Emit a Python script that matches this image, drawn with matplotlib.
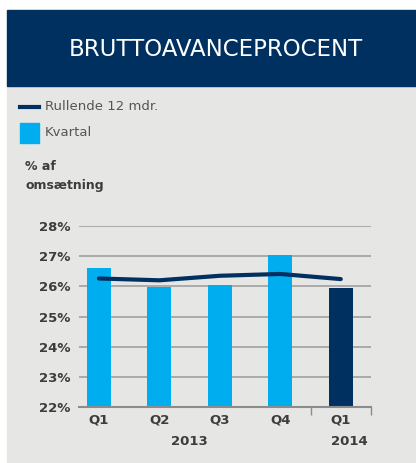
import matplotlib
matplotlib.use("Agg")
import matplotlib.pyplot as plt
from matplotlib.patches import Rectangle
from matplotlib.lines import Line2D

# data
quarters = ["Q1", "Q2", "Q3", "Q4", "Q1"]
years = ["2013", "2014"]
kvartal = [26.6, 25.97, 26.05, 27.03, 25.93]
rullende = [26.26, 26.2, 26.35, 26.41, 26.24]
yticks = [22, 23, 24, 25, 26, 27, 28]

navy = "#00305f"
cyan = "#00aeef"
panel = "#e6e6e5"
txt = "#3d3d3d"

fig = plt.figure(figsize=(4.16, 4.63), dpi=100)
W, H = 416, 463

def fx(px):
    return px / W

def fy(py):
    return 1 - py / H

# grey panel and navy header
fig.patches.append(Rectangle((fx(7), 0), 1 - fx(7), fy(86), transform=fig.transFigure,
                             color=panel, zorder=-2))
fig.patches.append(Rectangle((fx(7), fy(86)), 1 - fx(7), fy(10) - fy(86),
                             transform=fig.transFigure, color=navy, zorder=-2))
fig.text(fx(216), fy(49), "BRUTTOAVANCEPROCENT", color="white", fontsize=16.5,
         family=["Liberation Sans Narrow", "DejaVu Sans"], ha="center", va="center")

# legend
fig.lines.append(Line2D([fx(20), fx(39)], [fy(107), fy(107)], transform=fig.transFigure,
                        color=navy, lw=3))
fig.patches.append(Rectangle((fx(20), fy(143)), fx(19), fy(123) - fy(143),
                             transform=fig.transFigure, color=cyan))
fig.text(fx(45), fy(107), "Rullende 12 mdr.", color="#555555", fontsize=9.5, va="center")
fig.text(fx(45), fy(133), "Kvartal", color="#555555", fontsize=9.5, va="center")
fig.text(fx(25), fy(167), "% af", color=txt, fontsize=9, fontweight="bold", va="center")
fig.text(fx(25), fy(185), "omsætning", color=txt, fontsize=9, fontweight="bold", va="center")

ax = fig.add_axes([fx(79), fy(407), fx(371) - fx(79), fy(226) - fy(407)])
ax.set_facecolor("none")
x = list(range(len(quarters)))
colors = [cyan] * 4 + [navy]
ax.bar(x, [v - 22 for v in kvartal], bottom=22, width=0.4, color=colors, zorder=2)
ax.plot(x, rullende, color=navy, lw=3, zorder=3, solid_capstyle="round")

ax.set_xlim(-0.33, 4.5)
ax.set_ylim(22, 28)
ax.set_yticks(yticks)
ax.set_yticklabels([f"{t}%" for t in yticks])
ax.yaxis.grid(True, color="#a0a0a0", lw=1.2, zorder=1)
ax.set_axisbelow(True)
for s in ["top", "right", "left"]:
    ax.spines[s].set_visible(False)
ax.spines["bottom"].set_color("#8c8c8c")
ax.spines["bottom"].set_linewidth(1.5)
ax.spines["bottom"].set_zorder(4)

ax.set_xticks(x)
ax.set_xticklabels(quarters)
ax.set_xticks([3.5, 4.5], minor=True)
ax.tick_params(axis="x", which="major", length=0, pad=5)
ax.tick_params(axis="x", which="minor", length=6, width=1, color="#8c8c8c")
ax.tick_params(axis="y", length=0, pad=6)
for lab in ax.get_xticklabels() + ax.get_yticklabels():
    lab.set_fontweight("bold")
    lab.set_fontsize(9.5)
    lab.set_color(txt)

ax.text(1.5, -0.19, years[0], transform=ax.get_xaxis_transform(), ha="center", va="center",
        fontsize=9.5, fontweight="bold", color=txt)
ax.text(4.15, -0.19, years[1], transform=ax.get_xaxis_transform(), ha="center", va="center",
        fontsize=9.5, fontweight="bold", color=txt)

fig.savefig("out.png", dpi=100)
